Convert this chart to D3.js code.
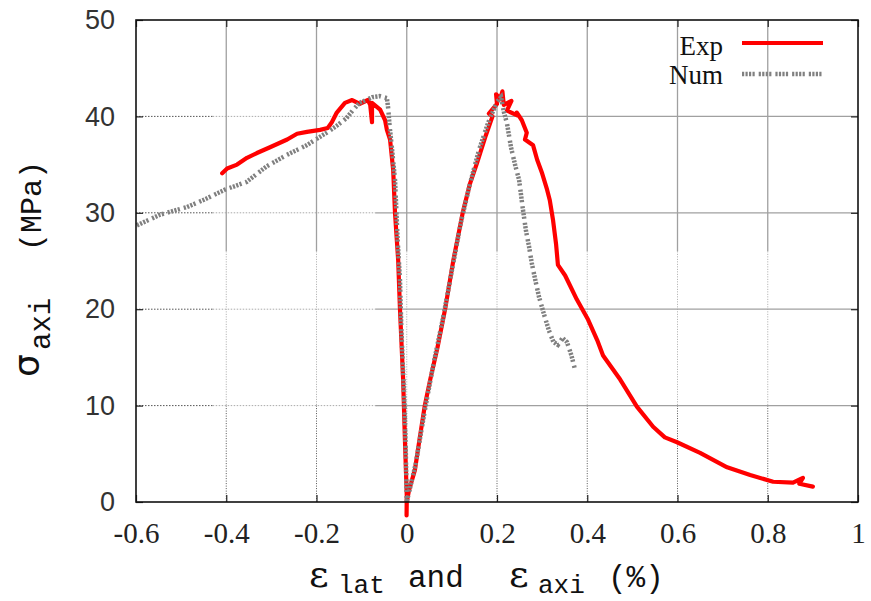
<!DOCTYPE html>
<html><head><meta charset="utf-8">
<script src="https://cdn.jsdelivr.net/npm/d3@7"></script>
<style>body{margin:0;background:#fff}</style>
</head><body>
<svg id="c" width="871" height="601"></svg>
<script>
// ---- data (strain %, stress MPa) ----
const xTicks = [-0.6,-0.4,-0.2,0,0.2,0.4,0.6,0.8,1];
const xTickLabels = ["-0.6","-0.4","-0.2","0","0.2","0.4","0.6","0.8","1"];
const yTicks = [0,10,20,30,40,50];
const yTickLabels = ["0","10","20","30","40","50"];
const seriesNames = ["Exp","Num"];

// Experimental: lateral branch and axial branch
const expLateral = [[-0.0004,-1.4],[0.0,0.7],[-0.004,6.4],[-0.008,12.7],[-0.015,20.0],[-0.019,25.1],
 [-0.026,30.0],[-0.030,34.4],[-0.037,37.6],[-0.044,38.6],[-0.048,39.6],[-0.059,40.7],[-0.077,41.4],
 [-0.077,39.4],[-0.081,41.2],[-0.086,41.7],[-0.104,41.3],[-0.121,41.7],[-0.137,41.4],[-0.155,40.4],
 [-0.166,39.4],[-0.175,38.8],[-0.192,38.6],[-0.221,38.4],[-0.243,38.2],[-0.265,37.6],[-0.303,36.8],
 [-0.332,36.2],[-0.354,35.7],[-0.376,35.0],[-0.398,34.6],[-0.409,34.1]];
const expAxial = [[0.0,0.0],[0.005,1.2],[0.018,3.3],[0.028,6.4],[0.040,10.0],[0.052,12.7],[0.068,16.0],
 [0.085,20.0],[0.103,25.0],[0.124,30.0],[0.140,33.0],[0.156,35.2],[0.175,38.0],[0.190,40.0],[0.182,40.3],
 [0.200,41.3],[0.198,42.3],[0.207,41.8],[0.212,42.6],[0.215,41.2],[0.232,41.6],[0.222,40.6],[0.245,40.1],
 [0.244,40.4],[0.255,39.6],[0.266,38.3],[0.262,37.6],[0.280,37.0],[0.289,35.5],[0.300,34.1],[0.311,32.4],
 [0.317,31.3],[0.324,29.3],[0.331,26.7],[0.335,24.6],[0.351,23.5],[0.377,21.0],[0.402,18.9],[0.422,16.8],
 [0.435,15.2],[0.473,12.7],[0.510,9.9],[0.546,7.8],[0.572,6.7],[0.599,6.2],[0.650,5.1],[0.710,3.6],
 [0.761,2.8],[0.812,2.1],[0.856,2.0],[0.878,2.5],[0.870,1.9],[0.900,1.6]];

// Numerical
const numLateral = [[0.0,0.0],[-0.002,5.0],[-0.005,10.0],[-0.008,13.4],[-0.012,18.0],[-0.015,23.0],
 [-0.020,27.0],[-0.026,33.4],[-0.033,36.8],[-0.038,39.0],[-0.041,40.8],[-0.044,41.9],[-0.060,42.1],
 [-0.076,42.0],[-0.090,41.7],[-0.105,41.4],[-0.120,40.6],[-0.134,39.8],[-0.156,39.0],[-0.178,38.3],
 [-0.222,37.0],[-0.266,36.0],[-0.311,34.8],[-0.355,33.2],[-0.403,32.4],[-0.452,31.3],[-0.487,30.6],
 [-0.547,29.8],[-0.598,28.7]];
const numAxial = [[0.0,0.0],[0.020,4.0],[0.040,9.5],[0.060,14.5],[0.080,19.0],[0.100,24.0],[0.120,29.0],
 [0.140,33.0],[0.160,36.5],[0.180,39.3],[0.200,41.5],[0.209,42.0],[0.215,40.5],[0.222,39.3],[0.231,36.8],
 [0.240,35.0],[0.249,33.4],[0.257,30.5],[0.264,28.2],[0.271,26.5],[0.277,24.8],[0.285,23.0],[0.293,21.3],
 [0.304,19.5],[0.315,17.8],[0.325,16.6],[0.335,16.3],[0.345,17.0],[0.355,16.6],[0.365,15.2],[0.372,13.9]];

// ---- layout ----
const svg = d3.select("#c");
const L=136, R=858, T=20, B=502;
const x = d3.scaleLinear().domain([-0.6,1]).range([L,R]);
const y = d3.scaleLinear().domain([0,50]).range([B,T]);

// grid (gnuplot-like mixed rendering)
const g = svg.append("g");
xTicks.slice(1,-1).forEach(v=>{
  g.append("line").attr("x1",x(v)).attr("x2",x(v)).attr("y1",y(50)).attr("y2",y(26))
   .attr("stroke","#a0a0a0").attr("stroke-width",1.3);
  g.append("line").attr("x1",x(v)).attr("x2",x(v)).attr("y1",y(26)).attr("y2",y(10))
   .attr("stroke","#aaa").attr("stroke-width",1).attr("stroke-dasharray","1,1.5");
  g.append("line").attr("x1",x(v)).attr("x2",x(v)).attr("y1",y(10)).attr("y2",y(0))
   .attr("stroke","#555").attr("stroke-width",1).attr("stroke-dasharray","1,1.5");
});
yTicks.slice(1,-1).forEach(v=>{
  g.append("line").attr("x1",x(-0.6)).attr("x2",x(-0.43)).attr("y1",y(v)).attr("y2",y(v))
   .attr("stroke","#555").attr("stroke-width",1).attr("stroke-dasharray","1.5,1.5");
  g.append("line").attr("x1",x(-0.43)).attr("x2",x(-0.07)).attr("y1",y(v)).attr("y2",y(v))
   .attr("stroke","#aaa").attr("stroke-width",1).attr("stroke-dasharray","1.5,1.5");
  g.append("line").attr("x1",x(-0.07)).attr("x2",x(1)).attr("y1",y(v)).attr("y2",y(v))
   .attr("stroke","#a0a0a0").attr("stroke-width",1.3);
});

// axes (inward ticks)
const ax = (gen, tr) => svg.append("g").attr("transform",tr).call(gen)
   .call(s=>s.select(".domain").remove())
   .call(s=>s.selectAll(".tick line").attr("stroke","#222").attr("stroke-width",1.2));
const xb = ax(d3.axisBottom(x).tickValues(xTicks).tickSizeInner(-7).tickSizeOuter(0).tickPadding(20)
   .tickFormat((d,i)=>xTickLabels[i]), `translate(0,${B})`);
xb.selectAll("text").attr("font-family","Liberation Serif").attr("font-size",29).attr("fill","#222");
ax(d3.axisTop(x).tickValues(xTicks).tickSizeInner(-7).tickSizeOuter(0).tickFormat(""), `translate(0,${T})`);
const yl = ax(d3.axisLeft(y).tickValues(yTicks).tickSizeInner(-7).tickSizeOuter(0).tickPadding(21)
   .tickFormat((d,i)=>yTickLabels[i]), `translate(${L},0)`);
yl.selectAll("text").attr("font-family","Liberation Sans").attr("font-size",27).attr("fill","#333");
ax(d3.axisRight(y).tickValues(yTicks).tickSizeInner(-7).tickSizeOuter(0).tickFormat(""), `translate(${R},0)`);

// series
const line = d3.line().x(d=>x(d[0])).y(d=>y(d[1]));
const expPath = expLateral.slice().reverse().concat(expAxial);
const numPath = numLateral.slice().reverse().concat(numAxial);
svg.append("path").attr("d",line(expPath)).attr("fill","none").attr("stroke","#ff0000")
  .attr("stroke-width",4.2).attr("stroke-linejoin","round").attr("stroke-linecap","round");
const numDash = "2.2,1.3,2.2,1.3,2.2,1.3,2.2,4";
svg.append("path").attr("d",line(numPath)).attr("fill","none").attr("stroke","#808080")
  .attr("stroke-width",4.5).attr("stroke-dasharray",numDash);

// frame
svg.append("rect").attr("x",L).attr("y",T).attr("width",R-L).attr("height",B-T)
  .attr("fill","none").attr("stroke","#111").attr("stroke-width",1.6);

// legend
const leg = svg.append("g");
leg.append("text").attr("x",723).attr("y",55).attr("text-anchor","end")
  .attr("font-family","Liberation Serif").attr("font-size",27).attr("fill","#111").text(seriesNames[0]);
leg.append("line").attr("x1",742).attr("x2",823).attr("y1",43).attr("y2",43)
  .attr("stroke","#ff0000").attr("stroke-width",4);
leg.append("text").attr("x",723).attr("y",84).attr("text-anchor","end")
  .attr("font-family","Liberation Serif").attr("font-size",27).attr("fill","#111").text(seriesNames[1]);
leg.append("line").attr("x1",742).attr("x2",823).attr("y1",74).attr("y2",74)
  .attr("stroke","#808080").attr("stroke-width",4.5).attr("stroke-dasharray",numDash);

// axis titles
const mono = "Liberation Mono";
const yt = svg.append("g").attr("fill","#111");
yt.append("text").attr("transform","translate(39,377) rotate(-90)")
  .attr("font-family","DejaVu Sans").attr("font-size",36).text("σ");
yt.append("text").attr("transform","translate(50,350) rotate(-90)")
  .attr("font-family",mono).attr("font-size",29).text("axi");
yt.append("text").attr("transform","translate(41,251) rotate(-90)")
  .attr("font-family",mono).attr("font-size",30).text("(MPa)");

const xt = svg.append("g").attr("fill","#111");
xt.append("text").attr("x",309).attr("y",587).attr("font-family","DejaVu Serif").attr("font-size",38).text("ε");
xt.append("text").attr("x",338).attr("y",593).attr("font-family",mono).attr("font-size",26).text("lat");
xt.append("text").attr("x",408).attr("y",587).attr("font-family",mono).attr("font-size",31).text("and");
xt.append("text").attr("x",509).attr("y",587).attr("font-family","DejaVu Serif").attr("font-size",38).text("ε");
xt.append("text").attr("x",538).attr("y",593).attr("font-family",mono).attr("font-size",26).text("axi");
xt.append("text").attr("x",608).attr("y",587).attr("font-family",mono).attr("font-size",31).text("(%)");
</script>
</body></html>
